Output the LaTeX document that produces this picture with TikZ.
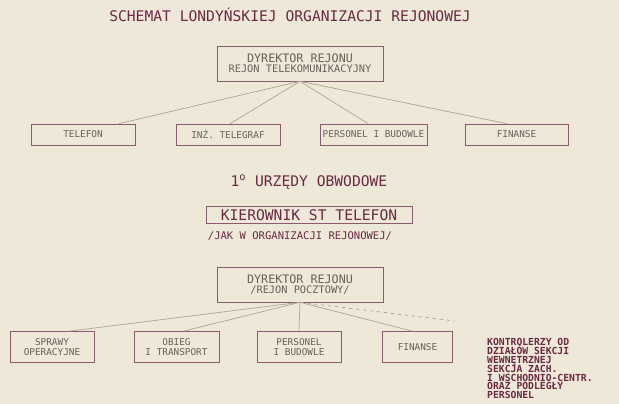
\documentclass[tikz,border=0pt]{standalone}
\usepackage{fontspec}
\setmonofont{DejaVu Sans Mono}
\usetikzlibrary{calc}

\definecolor{paper}{HTML}{EDE8D7}
\definecolor{ink}{HTML}{6B2946}
\definecolor{boxline}{HTML}{8C5A6E}
\definecolor{grayink}{HTML}{66625C}
\definecolor{wire}{HTML}{A9A598}

\begin{document}
\begin{tikzpicture}[x=0.03cm, y=-0.03cm]
\fill[paper] (0,0) rectangle (619,404);
\useasboundingbox (0,0) rectangle (619,404);

\coordinate (H_1) at (290, 15);
\coordinate (D_1) at (300, 63.5);
\coordinate (T_1) at (83, 134.5);
\coordinate (T_2) at (228, 134.5);
\coordinate (T_3) at (373.5, 134.5);
\coordinate (T_4) at (516.5, 134.5);
\coordinate (H_2) at (309, 182);
\coordinate (K_1) at (309, 215);
\coordinate (J_1) at (300, 236);
\coordinate (D_2) at (300, 284.5);
\coordinate (B_1) at (52, 347);
\coordinate (B_2) at (176.5, 347);
\coordinate (B_3) at (299, 347);
\coordinate (B_4) at (417.5, 347);
\coordinate (A_1) at (487, 338);
\coordinate (A_0) at (455, 321);


\tikzset{HeadStyle/.style = {
 text = ink,
 inner sep = 0pt,
 font = \ttfamily\fontsize{12.5}{13}\selectfont} }

\node[HeadStyle] (H1) at (H_1) {SCHEMAT LONDYŃSKIEJ ORGANIZACJI REJONOWEJ};
\node[HeadStyle] (H2) at (H_2) {1\textsuperscript{o} URZĘDY OBWODOWE};
\node[HeadStyle, font=\ttfamily\fontsize{9}{9}\selectfont] (J1) at (J_1) {/JAK W ORGANIZACJI REJONOWEJ/};


\tikzset{BoxStyle/.style = {
 draw = boxline,
 line width = 0.5pt,
 shape = rectangle,
 text = grayink,
 align = center,
 inner sep = 1pt,
 minimum height = 0.63cm,
 font = \ttfamily\fontsize{8}{8.5}\selectfont} }

\node[BoxStyle, minimum width=4.98cm, minimum height=1.05cm] (DT) at (D_1)
 {{\fontsize{10}{11}\selectfont DYREKTOR REJONU}\\{\fontsize{8.8}{9.5}\selectfont REJON TELEKOMUNIKACYJNY}};
\node[BoxStyle, minimum width=3.12cm] (T1) at (T_1) {TELEFON};
\node[BoxStyle, minimum width=3.12cm] (T2) at (T_2) {INŻ. TELEGRAF};
\node[BoxStyle, minimum width=3.21cm] (T3) at (T_3) {PERSONEL I BUDOWLE};
\node[BoxStyle, minimum width=3.09cm] (T4) at (T_4) {FINANSE};
\node[BoxStyle, minimum width=6.18cm, minimum height=0.51cm, text=ink,
 font=\ttfamily\fontsize{12.5}{13}\selectfont] (K1) at (K_1) {KIEROWNIK ST TELEFON};
\node[BoxStyle, minimum width=4.98cm, minimum height=1.05cm] (DP) at (D_2)
 {{\fontsize{10}{11}\selectfont DYREKTOR REJONU}\\{\fontsize{8.8}{9.5}\selectfont /REJON POCZTOWY/}};
\node[BoxStyle, minimum width=2.52cm, minimum height=0.93cm] (B1) at (B_1) {SPRAWY\\OPERACYJNE};
\node[BoxStyle, minimum width=2.55cm, minimum height=0.93cm] (B2) at (B_2) {OBIEG\\I TRANSPORT};
\node[BoxStyle, minimum width=2.52cm, minimum height=0.93cm] (B3) at (B_3) {PERSONEL\\I BUDOWLE};
\node[BoxStyle, minimum width=2.10cm, minimum height=0.93cm] (B4) at (B_4) {FINANSE};

\node[HeadStyle, anchor=north west, align=left,
 font=\ttfamily\bfseries\fontsize{8.3}{7.6}\selectfont\setlength{\lineskiplimit}{-20pt}] (A1) at (A_1)
 {KONTROLERZY OD\\DZIAŁÓW SEKCJI\\WEWNĘTRZNEJ\\SEKCJA ZACH.\\I WSCHODNIO-CENTR.\\ORAZ PODLEGŁY\\PERSONEL};


\tikzset{EdgeStyle/.style = {draw = wire, line width = 0.6pt} }

\draw[ EdgeStyle] (DT.south) -- ($(T1.north west)!0.84!(T1.north east)$);
\draw[ EdgeStyle] (DT.south) -- ($(T2.north west)!0.52!(T2.north east)$);
\draw[ EdgeStyle] (DT.south) -- ($(T3.north west)!0.45!(T3.north east)$);
\draw[ EdgeStyle] (DT.south) -- ($(T4.north west)!0.41!(T4.north east)$);
\draw[ EdgeStyle] (DP.south) -- ($(B1.north west)!0.70!(B1.north east)$);
\draw[ EdgeStyle] (DP.south) -- ($(B2.north west)!0.58!(B2.north east)$);
\draw[ EdgeStyle] (DP.south) -- (B3.north);
\draw[ EdgeStyle] (DP.south) -- ($(B4.north west)!0.43!(B4.north east)$);
\draw[ EdgeStyle, dashed] (DP.south) -- (A_0);

\end{tikzpicture}
\end{document}
